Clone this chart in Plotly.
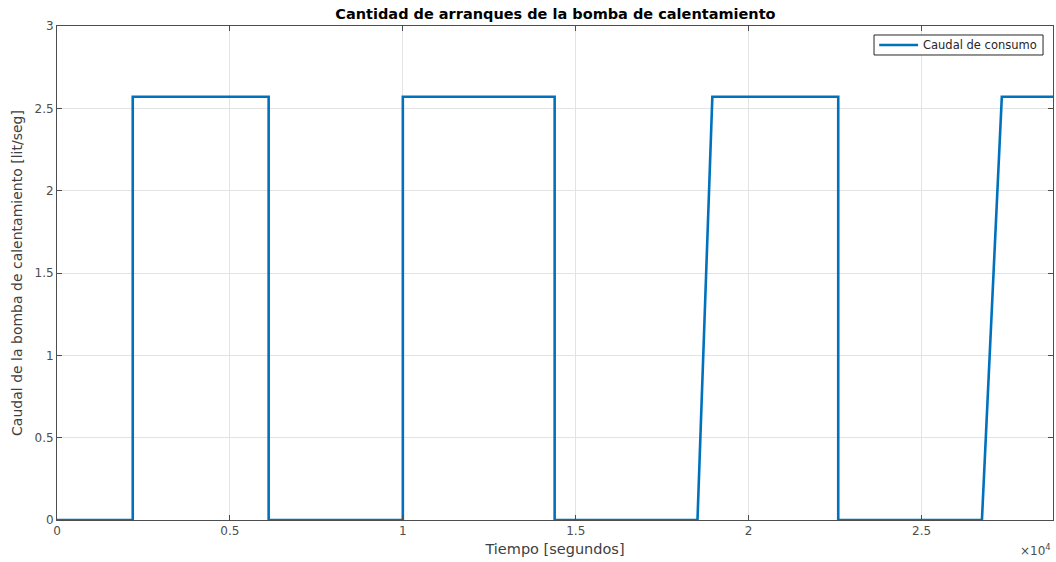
import plotly.graph_objects as go

# tiempo [s] y caudal [lit/seg]
tiempo = [0, 2190, 2190, 6120, 6120, 10000, 10000, 14390, 14390,
          18520, 18950, 22590, 22590, 26745, 27320, 28800]
caudal = [0, 0, 2.57, 2.57, 0, 0, 2.57, 2.57, 0,
          0, 2.57, 2.57, 0, 0, 2.57, 2.57]

x_ticks = [0, 5000, 10000, 15000, 20000, 25000]
x_labels = ["0", "0.5", "1", "1.5", "2", "2.5"]
y_ticks = [0, 0.5, 1, 1.5, 2, 2.5, 3]
y_labels = ["0", "0.5", "1", "1.5", "2", "2.5", "3"]

fnt = "DejaVu Sans"
axcol = "#4d4d4d"
azul = "#0072BD"

fig = go.Figure()
fig.add_trace(go.Scatter(x=tiempo, y=caudal, mode="lines",
                         name="Caudal de consumo",
                         line=dict(color=azul, width=2.6)))

axis_common = dict(showline=True, linecolor=axcol, linewidth=1, mirror="ticks",
                   ticks="inside", ticklen=5, tickcolor=axcol,
                   showgrid=True, gridcolor="#e3e3e3", gridwidth=1,
                   zeroline=False, tickfont=dict(family=fnt, size=12, color="#4d4d4d"))

fig.update_layout(
    width=1056, height=562,
    paper_bgcolor="white", plot_bgcolor="white",
    margin=dict(l=57, r=3, t=26, b=42),
    title=dict(text="<b>Cantidad de arranques de la bomba de calentamiento</b>",
               x=0.526, xanchor="center", y=0.975, yanchor="middle",
               font=dict(family=fnt, size=14.5, color="black")),
    xaxis=dict(range=[0, 28800], tickvals=x_ticks, ticktext=x_labels,
               title=dict(text="Tiempo [segundos]", standoff=6,
                          font=dict(family=fnt, size=14.5, color="#404040")),
               **axis_common),
    yaxis=dict(range=[0, 3], tickvals=y_ticks, ticktext=y_labels,
               title=dict(text="Caudal de la bomba de calentamiento [lit/seg]", standoff=8,
                          font=dict(family=fnt, size=14, color="#404040")),
               **axis_common),
    showlegend=False,
)

# leyenda estilo MATLAB: caja + muestra de linea + texto
fig.add_shape(type="rect", xref="paper", yref="paper", layer="above",
              x0=0.8203, x1=0.99, y0=0.9413, y1=0.9818,
              fillcolor="white", line=dict(color="#262626", width=1))
fig.add_shape(type="line", xref="paper", yref="paper", layer="above",
              x0=0.8255, x1=0.8645, y0=0.9615, y1=0.9615,
              line=dict(color=azul, width=2.6))
fig.add_annotation(text="Caudal de consumo", xref="paper", yref="paper",
                   x=0.986, y=0.9615, xanchor="right", yanchor="middle",
                   showarrow=False,
                   font=dict(family=fnt, size=11.5, color="#262626"))

fig.add_annotation(text="×10<sup>4</sup>", xref="paper", yref="paper",
                   x=1.0, y=-0.08, xanchor="right", yanchor="bottom", showarrow=False,
                   font=dict(family=fnt, size=12, color="#4d4d4d"))

fig.write_html("out.html", config={"displayModeBar": False},
               post_script="document.body.style.margin='0';document.body.style.overflow='hidden';")
